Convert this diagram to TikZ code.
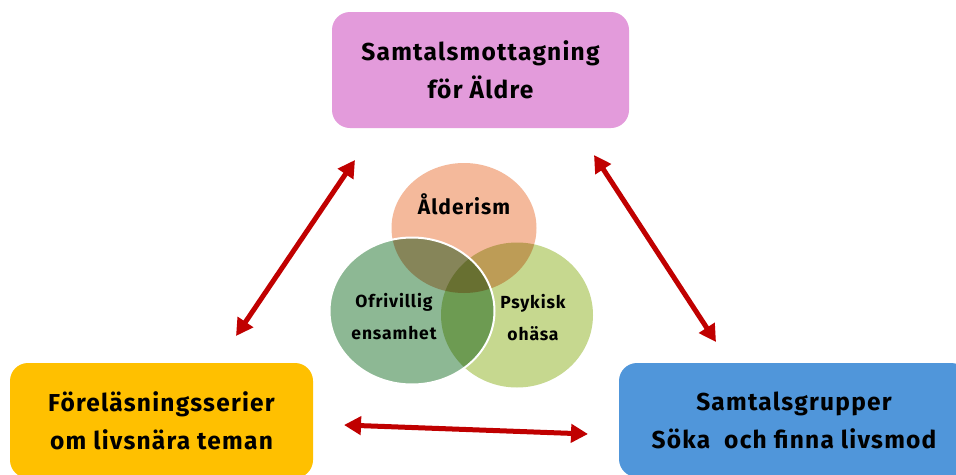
\documentclass[tikz,border=0pt]{standalone}
\usepackage{fontspec}
\setmainfont{Fira Sans}[LetterSpace=5]
\usetikzlibrary{shapes.geometric, arrows.meta, positioning}
\definecolor{aldreViolet}{RGB}{227,155,219}
\definecolor{foreYellow}{RGB}{255,192,0}
\definecolor{gruppBlue}{RGB}{80,150,218}
\definecolor{alderSalmon}{RGB}{244,185,155}
\definecolor{ofrGreen}{RGB}{141,184,148}
\definecolor{psykGreen}{RGB}{198,216,143}
\definecolor{arrowRed}{RGB}{192,0,0}

\begin{document}
\begin{tikzpicture}[
    x=1pt, y=-1pt,
    box/.style={rectangle, rounded corners=18pt, draw=none, align=center, font=\fontsize{24.5}{38}\selectfont\bfseries, text=black},
    venn/.style={ellipse, draw=none, inner sep=0pt, blend mode=multiply},
    vtext/.style={align=center, font=\fontsize{17.5}{32}\selectfont\bfseries, text=black},
    arrow/.style={{Triangle[length=17pt,width=18pt]}-{Triangle[length=17pt,width=18pt]}, line width=5pt, draw=arrowRed}
]
\useasboundingbox[fill=white] (0,0) rectangle (956,474);

% Boxes
\node[box, fill=aldreViolet, minimum width=297pt, minimum height=116pt] (aldre) at (480.5,70) {Samtalsmottagning\\för Äldre};
\node[box, fill=foreYellow, minimum width=303pt, minimum height=115pt] (fore) at (161.5,420.5) {Föreläsningsserier\\om livsnära teman};
\node[box, fill=gruppBlue, minimum width=350pt, minimum height=114pt] (grupp) at (794,420) {Samtalsgrupper\\Söka\ \ och finna livsmod};

% Venn circles
\node[venn, fill=alderSalmon, minimum width=145pt, minimum height=130pt] (alder) at (464,228) {};
\node[venn, fill=psykGreen, minimum width=152pt, minimum height=145pt] (psyk) at (517,315) {};
\node[venn, fill=ofrGreen, minimum width=165pt, minimum height=147pt] (ofr) at (412,311) {};
\draw[white, line width=2pt] (ofr.center) ellipse [x radius=82.5, y radius=73.5];

% Venn texts
\node[vtext, font=\fontsize{21}{32}\selectfont\bfseries] (alderText) at (464,204) {Ålderism};
\node[vtext] (ofrText) at (394,317) {Ofrivillig\\ensamhet};
\node[vtext] (psykText) at (533,318) {Psykisk\\ohäsa};

% Arrow ends
\coordinate (foreTop) at (236,336);
\coordinate (aldreLeft) at (355,160);
\coordinate (aldreRight) at (594,155);
\coordinate (gruppTop) at (716,342);
\coordinate (foreRight) at (344,425);
\coordinate (gruppLeft) at (588,434);

% Arrows
\draw[arrow] (foreTop) -- (aldreLeft);
\draw[arrow] (aldreRight) -- (gruppTop);
\draw[arrow] (foreRight) -- (gruppLeft);

\end{tikzpicture}
\end{document}
